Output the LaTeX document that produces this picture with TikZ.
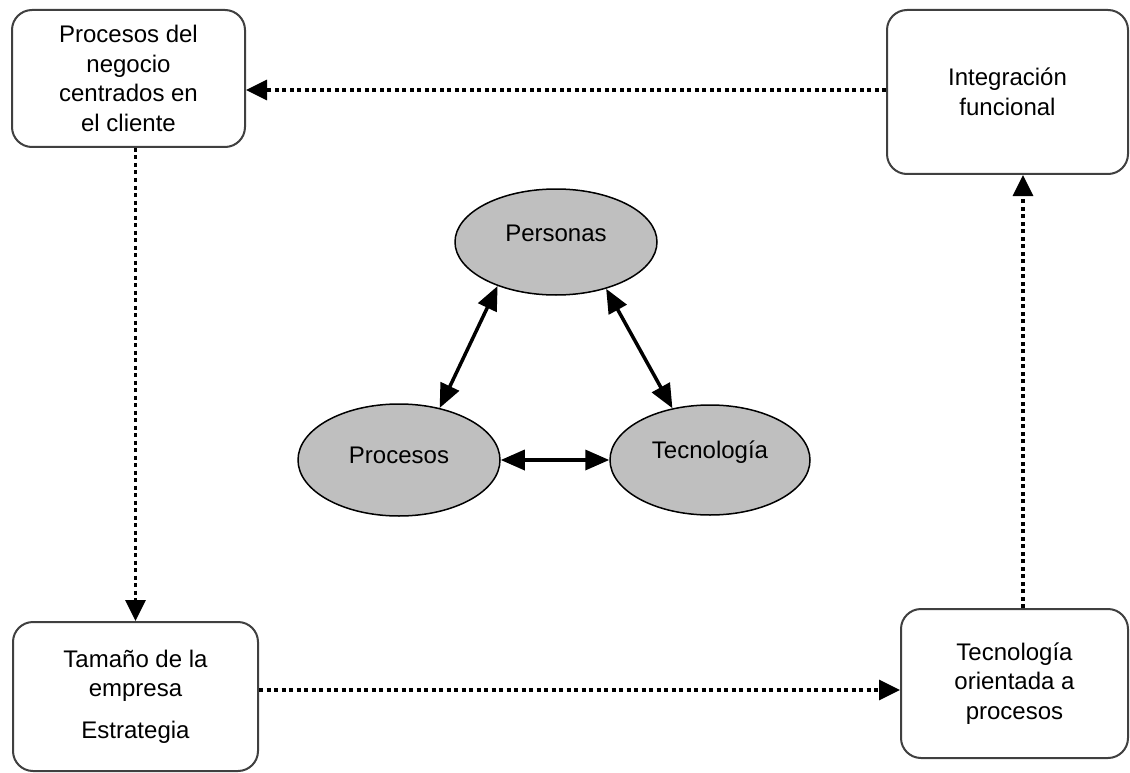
\documentclass[tikz,border=0pt]{standalone}
\usepackage{fontspec}
\setmainfont{Liberation Sans}
\usetikzlibrary{arrows.meta,shapes.geometric}
\begin{document}
\begin{tikzpicture}[x=1pt,y=-1pt,
  box/.style={draw=black!75,line width=2pt,rounded corners=20pt,fill=white,
    align=center,font=\fontsize{24}{29.5}\selectfont,inner sep=0pt},
  oval/.style={ellipse,draw=black,line width=1.5pt,fill=black!25,inner sep=0pt},
  flow/.style={line width=3.2pt,dash pattern=on 4pt off 3.5pt,
    -{Triangle[length=21pt,width=20pt]}},
  link/.style={line width=3.5pt,
    {Triangle[length=24pt,width=20pt]}-{Triangle[length=24pt,width=20pt]}},
  lab/.style={font=\fontsize{24}{29}\selectfont}
]
\useasboundingbox (0,0) rectangle (1130,773);

% outer boxes
\node[box,minimum width=233pt,minimum height=137pt] (b1) at (128.5,78.5)
  {Procesos del\\negocio\\centrados en\\el cliente};
\node[box,minimum width=241pt,minimum height=164pt] (b2) at (1007.5,92)
  {Integración\\funcional};
\node[box,minimum width=245pt,minimum height=149pt] (b3) at (135.5,696.5)
  {Tamaño de la\\empresa\\[12pt]Estrategia};
\node[box,minimum width=227pt,minimum height=149pt] (b4) at (1014.5,683.5)
  {Tecnología\\orientada a\\procesos};

% central triangle of ellipses
\node[oval,minimum width=202pt,minimum height=106pt,
  label={[lab,yshift=9pt]center:Personas}] (per) at (556,242) {};
\node[oval,minimum width=202pt,minimum height=112pt,
  label={[lab,yshift=5pt]center:Procesos}] (pro) at (399,460) {};
\node[oval,minimum width=200pt,minimum height=110pt,
  label={[lab,yshift=8pt]center:Tecnología}] (tec) at (710,460) {};

% guide lines for the dotted connectors
\coordinate (ty) at (0,90);
\coordinate (by) at (0,690);
\coordinate (rx) at (1023,0);

% dotted cycle around the frame
\draw[flow] (b2.west |- ty) -- (b1.east |- ty);
\draw[flow] (b3.north |- b1.south) -- (b3.north);
\draw[flow] (b3.east |- by) -- (b4.west |- by);
\draw[flow] (b4.north -| rx) -- (b2.south -| rx);

% two-way links between the ellipses
\draw[link] (per.217) -- (pro.52);
\draw[link] (per.317) -- (tec.126);
\draw[link] (pro.east) -- (tec.west);
\end{tikzpicture}
\end{document}
